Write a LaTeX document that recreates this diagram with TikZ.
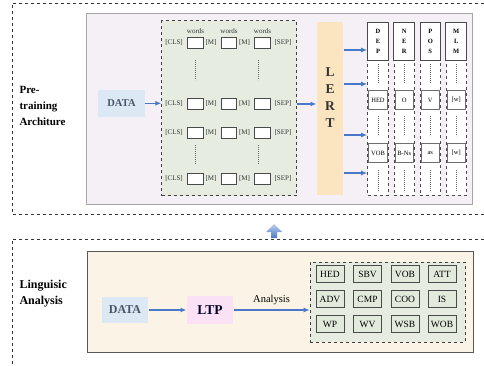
\documentclass[tikz,border=0pt]{standalone}
\usepackage{fontspec}
\setmainfont{Liberation Serif}
\usetikzlibrary{arrows.meta,positioning}

\definecolor{panelpurple}{HTML}{F5EFF6}
\definecolor{panelbeige}{HTML}{FBF3E5}
\definecolor{tokgreen}{HTML}{E6EDE0}
\definecolor{cellgreen}{HTML}{E2EADB}
\definecolor{datablue}{HTML}{DCE8F4}
\definecolor{lertorange}{HTML}{FBE5C1}
\definecolor{ltppink}{HTML}{FBE1F6}
\definecolor{linkblue}{HTML}{4A78C8}
\definecolor{inkgray}{HTML}{4A4A4A}
\definecolor{datatext}{HTML}{4B5568}

\tikzset{
  frame/.style={draw=black!80,dashed,line width=0.6pt},
  panel/.style={draw,rectangle,inner sep=0pt,line width=0.8pt},
  sidelabel/.style={font=\fontsize{11}{16}\selectfont\bfseries,align=left,anchor=west},
  databox/.style={rectangle,fill=datablue,inner sep=0pt,text=datatext,font=\bfseries},
  tok/.style={font=\fontsize{7}{7}\selectfont,inner sep=0pt,text=black!80},
  slot/.style={draw=inkgray,fill=white,line width=0.8pt,minimum width=15.5pt,minimum height=11pt,inner sep=0pt},
  colhead/.style={draw=inkgray,fill=white,line width=1pt,minimum width=20.6pt,minimum height=37.7pt,inner sep=0pt,
    font=\fontsize{6.5}{10}\selectfont\bfseries,align=center},
  colbody/.style={draw=inkgray,dashed,fill=white,line width=0.6pt,minimum width=20.6pt,minimum height=135pt,inner sep=0pt},
  tagbox/.style={draw=inkgray!80,fill=white,line width=0.8pt,minimum width=18.5pt,minimum height=19.5pt,inner sep=0pt,
    font=\fontsize{6.5}{7}\selectfont},
  cell/.style={draw=inkgray,fill=cellgreen,line width=0.8pt,minimum width=28pt,minimum height=17pt,inner sep=0pt,
    font=\fontsize{9.5}{10}\selectfont},
  link/.style={->,draw=linkblue,line width=1.2pt},
  dotsline/.style={draw=black!60,line width=0.7pt,dash pattern=on 0.7pt off 1.3pt},
}

\begin{document}
\begin{tikzpicture}[x=1pt,y=-1pt,>={Latex[length=6pt,width=5pt]}]
  \useasboundingbox (0,0) rectangle (484,366);

  % outer frames
  \draw[frame] (484,3) -| (12,214) -- (484,214);
  \draw[frame] (484,239) -| (12,366);

  % pre-training part
  \node[panel,fill=panelpurple,draw=black!35,minimum width=386pt,minimum height=191pt] (pretrain) at (279.7,108.8) {};
  \node[sidelabel] (pretitle) at (16,106) {Pre-\\training\\Architure};
  \node[databox,minimum width=47pt,minimum height=26.5pt,font=\fontsize{10.5}{11}\selectfont\bfseries] (data) at (121.5,103.3) {DATA};

  \node[panel,draw=black!75,dashed,line width=0.7pt,fill=tokgreen,minimum width=135pt,minimum height=175pt] (tokens) at (229.2,108.3) {};
  \foreach \r/\y in {1/43,2/104,3/133,4/179}{
    \node[tok] (cls\r) at (174,\y) {[CLS]};
    \node[slot] (sa\r) at (195.5,\y) {};
    \node[tok] (ma\r) at (211,\y) {[M]};
    \node[slot] (sb\r) at (229,\y) {};
    \node[tok] (mb\r) at (244.5,\y) {[M]};
    \node[slot] (sc\r) at (262.5,\y) {};
    \node[tok] (sep\r) at (283,\y) {[SEP]};
  }
  \foreach \c in {a,b,c}
    \node[tok,above=3pt of s\c1] (w\c) {words};
  \foreach \x in {195.5,258}
    \draw[dotsline] (\x,60) -- (\x,80) (\x,145) -- (\x,164);

  \node[rectangle,fill=lertorange,minimum width=26.6pt,minimum height=173.6pt,inner sep=0pt] (lert) at (330,108.5) {};
  \node[font=\fontsize{13.5}{17}\selectfont\bfseries,align=center,text=black!80] (lerttxt) at (330,97.5) {L\\E\\R\\T};

  \foreach \n/\x/\t/\p/\q in {dep/378/{D\\E\\P}/HED/VOB, ner/404.2/{N\\E\\R}/O/B-Ns,
                             pos/430.3/{P\\O\\S}/V/as, mlm/456.2/{M\\L\\M}/{[w]}/{[w]}}{
    \node[colbody] (\n body) at (\x,127.5) {};
    \node[colhead] (\n head) at (\x,41.2) {\t};
    \node[tagbox] (\n tagA) at (\x,100) {\p};
    \node[tagbox] (\n tagB) at (\x,153) {\q};
    \draw[dotsline] (\x,64) -- (\x,83) (\x,116) -- (\x,136) (\x,170) -- (\x,192);
  }

  \draw[link] (data.east) -- (data.east -| tokens.west);
  \draw[link] (sep2 -| tokens.east) -- (sep2 -| lert.west);
  \foreach \y in {50,84,135,173}
    \draw[link] (0,\y -| lert.east) -- (0,\y -| dephead.west);

  % arrow between the two parts
  \shade[top color=linkblue!35,bottom color=linkblue]
    (274,224) -- (282,232) -- (277,232) -- (277,238) -- (271,238) -- (271,232) -- (266,232) -- cycle;

  % linguistic analysis part
  \node[panel,fill=panelbeige,draw=black!65,minimum width=386pt,minimum height=101pt] (analysispanel) at (280,301.5) {};
  \node[sidelabel,font=\fontsize{12}{16}\selectfont\bfseries] (antitle) at (16,294) {Linguisic\\Analysis};
  \node[databox,minimum width=46.6pt,minimum height=26.6pt,font=\fontsize{12}{13}\selectfont\bfseries] (data2) at (125,310) {DATA};
  \node[databox,fill=ltppink,text=black!75!blue!60!black,minimum width=46.6pt,minimum height=28pt,
    font=\fontsize{13.5}{14}\selectfont\bfseries] (ltp) at (210,310) {LTP};
  \node[panel,draw=black!75,dashed,line width=0.6pt,fill=tokgreen,minimum width=155pt,minimum height=80pt] (tags) at (387.5,302) {};
  \foreach \t/\x/\y in {HED/330/274, SBV/367.5/274, VOB/405/274, ATT/442/274,
                        ADV/330/299, CMP/367.5/299, COO/405/299, IS/442/299,
                        WP/330/324, WV/367.5/324, WSB/405/324, WOB/442/324}
    \node[cell] (cell\t) at (\x,\y) {\t};

  \draw[link] (data2) -- (ltp);
  \draw[link] (ltp.east) -- (ltp.east -| tags.west)
    node[midway,above=1pt,font=\fontsize{10.5}{11}\selectfont] (anlabel) {Analysis};
\end{tikzpicture}
\end{document}
